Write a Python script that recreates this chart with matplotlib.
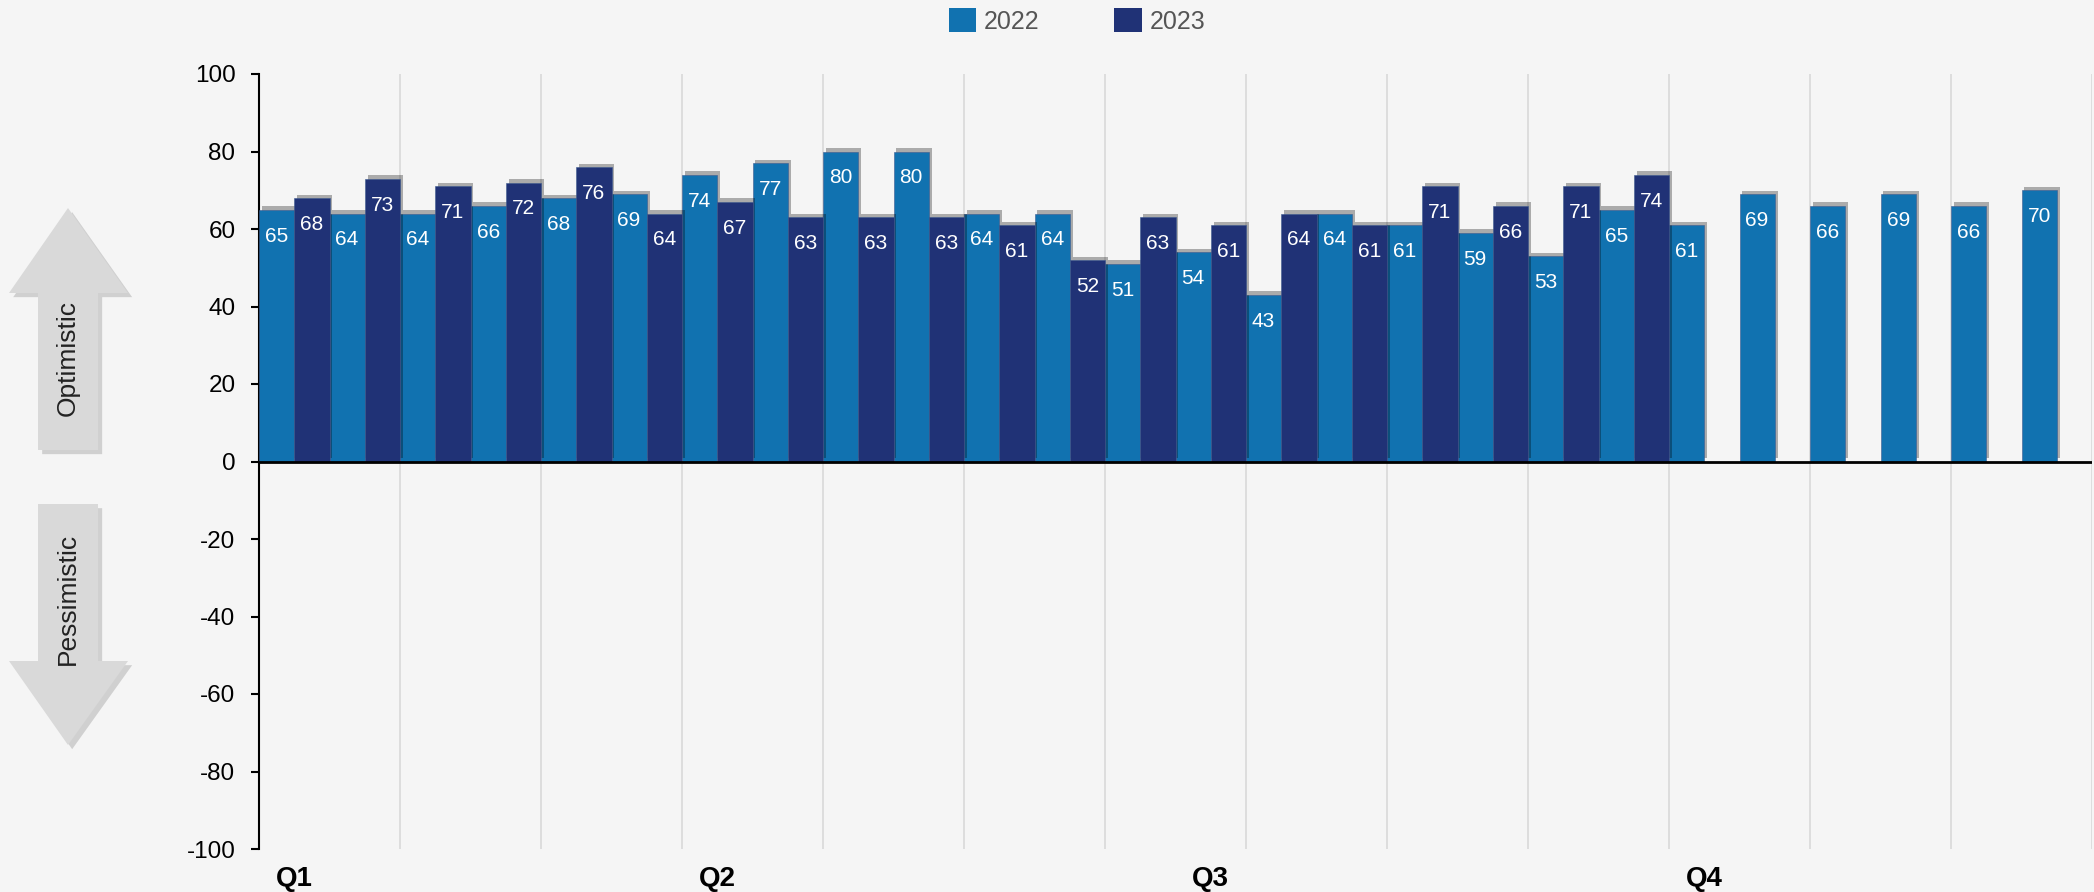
import numpy as np
import matplotlib
matplotlib.use("Agg")
import matplotlib.pyplot as plt
import matplotlib.patheffects as pe
from matplotlib.patches import Polygon, Patch

plt.rcParams["font.family"] = ["Liberation Sans", "DejaVu Sans"]
plt.rcParams["axes.unicode_minus"] = False

# data
periods = ["Q1", "", "", "", "", "", "Q2", "", "", "", "", "", "",
           "Q3", "", "", "", "", "", "", "Q4", "", "", "", "", ""]
v2022 = [65, 64, 64, 66, 68, 69, 74, 77, 80, 80, 64, 64, 51, 54, 43, 64,
         61, 59, 53, 65, 61, 69, 66, 69, 66, 70]
v2023 = [68, 73, 71, 72, 76, 64, 67, 63, 63, 63, 61, 52, 63, 61, 64, 61,
         71, 66, 71, 74]
series = ["2022", "2023"]
colors = ["#1172b0", "#203276"]

W, H = 2094, 892
fig = plt.figure(figsize=(W / 100, H / 100), dpi=100, facecolor="#f5f5f5")
ax = fig.add_axes([259 / W, 1 - 849 / H, (2092 - 259) / W, (849 - 74) / H])
ax.set_facecolor("#f5f5f5")

x = np.arange(len(periods))
shadow = [pe.SimplePatchShadow(offset=(2, 2.5), shadow_rgbFace="black", alpha=0.3),
          pe.Normal()]
b1 = ax.bar(x[:len(v2022)] + 0.25, v2022, width=0.5, color=colors[0],
            edgecolor="#3d5a8f", linewidth=0.4, zorder=3)
b2 = ax.bar(x[:len(v2023)] + 0.75, v2023, width=0.5, color=colors[1],
            edgecolor="#3d5a8f", linewidth=0.4, zorder=3)
for bars, vals in ((b1, v2022), (b2, v2023)):
    for rect, v in zip(bars, vals):
        rect.set_path_effects(shadow)
        ax.annotate(str(v), (rect.get_x() + rect.get_width() / 2, v),
                    xytext=(0, -19), textcoords="offset points",
                    ha="center", va="center", color="white", fontsize=15,
                    zorder=4)

ax.set_xlim(0, len(periods))
ax.set_ylim(-100, 100)
ax.set_yticks(np.arange(-100, 101, 20))
ax.tick_params(axis="y", length=6, width=1.5, pad=11, labelsize=17.5)
ax.set_xticks(x + 0.5)
ax.set_xticklabels(periods, fontsize=20, fontweight="bold")
ax.tick_params(axis="x", length=0, pad=12)
ax.set_xticks(np.arange(2, len(periods) + 1, 2), minor=True)
ax.tick_params(axis="x", which="minor", length=0)
ax.grid(axis="x", which="minor", color="#d9d9d9", linewidth=1.2, zorder=0)
ax.axhline(0, color="black", linewidth=2, zorder=5)
for s in ("top", "right", "bottom"):
    ax.spines[s].set_visible(False)
ax.spines["left"].set_linewidth(1.5)

# legend
handles = [Patch(facecolor=c, label=s) for c, s in zip(colors, series)]
fig.legend(handles=handles, loc="center", bbox_to_anchor=(1077 / W, 1 - 21 / H),
           ncol=2, frameon=False, fontsize=18, labelcolor="#555555",
           handlelength=1.1, handleheight=1.1, handletextpad=0.3,
           columnspacing=3.0)


# side arrows (pixel coords -> figure fraction)
def fpts(pts):
    return [(px / W, 1 - py / H) for px, py in pts]


up = [(68, 208), (128, 293), (98, 293), (98, 450), (38, 450), (38, 293), (9, 293)]
down = [(38, 504), (98, 504), (98, 661), (128, 661), (68, 745), (9, 661), (38, 661)]
arrow_fx = [pe.SimplePatchShadow(offset=(3, -3), shadow_rgbFace="black", alpha=0.15),
            pe.Normal()]
for pts in (up, down):
    poly = Polygon(fpts(pts), closed=True, transform=fig.transFigure,
                   facecolor="#d9d9d9", edgecolor="none")
    poly.set_path_effects(arrow_fx)
    fig.patches.append(poly)
fig.text(68 / W, 1 - 358 / H, "Optimistic", rotation=90, ha="center", va="center",
         fontsize=19, color="#222222")
fig.text(68 / W, 1 - 599 / H, "Pessimistic", rotation=90, ha="center", va="center",
         fontsize=19, color="#222222")

fig.savefig("out.png", dpi=100, facecolor=fig.get_facecolor())
